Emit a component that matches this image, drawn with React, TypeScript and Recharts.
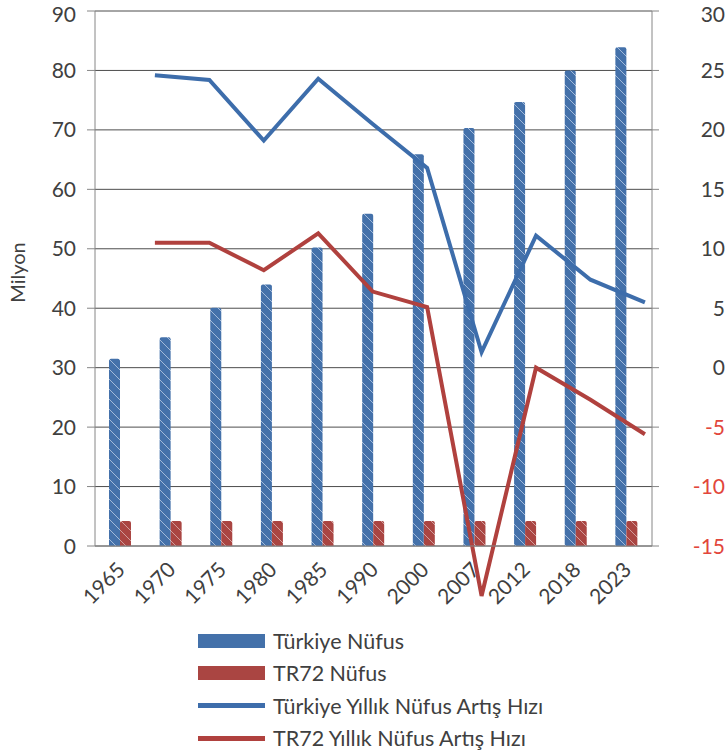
import React from "react"
import { ComposedChart, Bar, Line, XAxis, YAxis, CartesianGrid } from "recharts"

// census years (bars) and the growth-rate intervals between them (lines)
const years = ["1965", "1970", "1975", "1980", "1985", "1990", "2000", "2007", "2012", "2018", "2023"]
const turkiyeNufus = [31.5, 35.1, 40.1, 44.0, 50.2, 55.9, 65.9, 70.3, 74.7, 80.0, 83.9]
const tr72Nufus = [4.2, 4.2, 4.2, 4.2, 4.2, 4.2, 4.2, 4.2, 4.2, 4.2, 4.2]

const rateIndex = [0, 1, 2, 3, 4, 5, 6, 7, 8, 9]
const turkiyeArtis = [24.6, 24.2, 19.1, 24.3, 20.5, 16.8, 1.3, 11.1, 7.4, 5.5]
const tr72Artis = [10.5, 10.5, 8.2, 11.3, 6.4, 5.1, -19.2, 0.0, -2.7, -5.6]

const leftTicks = [0, 10, 20, 30, 40, 50, 60, 70, 80, 90]
const rightTicks = [-15, -10, -5, 0, 5, 10, 15, 20, 25, 30]

const BLUE = "#4471aa"
const RED = "#aa4542"
const BLUE_LINE = "#3d6dab"
const RED_LINE = "#b0413e"
const TEXT = "#404040"
const NEG = "#e2463b"
const FONT = "Lato, 'Open Sans', sans-serif"
const FS = 21

const barData = years.map((year, i) => ({
  year,
  turkiye: turkiyeNufus[i],
  tr72: tr72Nufus[i],
}))

const rateData = rateIndex.map((i, k) => ({
  i,
  turkiye: turkiyeArtis[k],
  tr72: tr72Artis[k],
}))

// the top labels sit against the upper edge, nudge them down a little
const topNudge = (index: number, count: number) => (index === count - 1 ? 3 : 0)

const YearTick = (props: any) => {
  const { x, y, payload } = props
  const ax = x + 6
  const ay = y + 17
  return (
    <text
      x={ax}
      y={ay}
      transform={`rotate(-45, ${ax}, ${ay})`}
      textAnchor="end"
      fill={TEXT}
      fontSize={FS}
      fontFamily={FONT}
    >
      {payload.value}
    </text>
  )
}

const RateTick = (props: any) => {
  const { x, y, payload, index } = props
  return (
    <text
      x={x + 66}
      y={y + topNudge(index, rightTicks.length)}
      dy="0.36em"
      textAnchor="end"
      fill={payload.value < 0 ? NEG : TEXT}
      fontSize={FS}
      fontFamily={FONT}
    >
      {payload.value}
    </text>
  )
}

const LeftTick = (props: any) => {
  const { x, y, payload, index } = props
  return (
    <text
      x={x}
      y={y + topNudge(index, leftTicks.length)}
      dy="0.36em"
      textAnchor="end"
      fill={TEXT}
      fontSize={FS}
      fontFamily={FONT}
    >
      {payload.value}
    </text>
  )
}

const MilyonLabel = (props: any) => {
  const { viewBox } = props
  const cy = viewBox.y + viewBox.height / 2 - 6
  return (
    <text
      x={25}
      y={cy}
      transform={`rotate(-90, 25, ${cy})`}
      textAnchor="middle"
      fill={TEXT}
      fontSize={20}
      fontFamily={FONT}
    >
      Milyon
    </text>
  )
}

const legendItems = [
  { label: "Türkiye Nüfus", color: BLUE, thick: 14 },
  { label: "TR72 Nüfus", color: RED, thick: 14 },
  { label: "Türkiye Yıllık Nüfus Artış Hızı", color: BLUE_LINE, thick: 5 },
  { label: "TR72 Yıllık Nüfus Artış Hızı", color: RED_LINE, thick: 5 },
]

const ChartLegend = () => (
  <div style={{ position: "absolute", left: 198, top: 625, fontFamily: FONT, fontSize: 21.5, color: TEXT }}>
    {legendItems.map((item) => (
      <div key={item.label} style={{ display: "flex", alignItems: "center", height: 32.3 }}>
        <div style={{ width: 67, height: item.thick, background: item.color, marginRight: 8 }} />
        <span>{item.label}</span>
      </div>
    ))}
  </div>
)

export default function App() {
  return (
    <div style={{ position: "absolute", left: 0, top: 0, width: 728, height: 753, background: "#fff" }}>
      <style>{`svg g[clip-path], .recharts-line, .recharts-line g, .recharts-line path { clip-path: none !important; }`}</style>
      <ComposedChart
        width={728}
        height={753}
        data={barData}
        margin={{ top: 11, right: 0, bottom: 147, left: 0 }}
        barGap={0}
      >
        <defs>
          <pattern id="hatchBlue" patternUnits="userSpaceOnUse" width={10} height={10}>
            <rect width={10} height={10} fill={BLUE} />
            <path d="M-1,-1 L11,11 M-1,9 L1,11 M9,-1 L11,1" stroke="#b9cbe4" strokeWidth={0.8} />
          </pattern>
          <pattern id="hatchRed" patternUnits="userSpaceOnUse" width={10} height={10}>
            <rect width={10} height={10} fill={RED} />
            <path d="M-1,-1 L11,11 M-1,9 L1,11 M9,-1 L11,1" stroke="#dcb3b1" strokeWidth={0.8} />
          </pattern>
        </defs>
        <CartesianGrid xAxisId="cat" yAxisId="left" vertical={false} stroke="#4d4d4d" strokeWidth={1} />
        <XAxis
          xAxisId="cat"
          dataKey="year"
          height={60}
          interval={0}
          tickLine={false}
          axisLine={{ stroke: "#868686" }}
          tick={<YearTick />}
        />
        <XAxis xAxisId="rate" type="number" dataKey="i" domain={[-1.1, 9.13]} hide />
        <YAxis
          yAxisId="left"
          width={95}
          domain={[0, 90]}
          ticks={leftTicks}
          interval={0}
          tickSize={8}
          tickMargin={11}
          axisLine={{ stroke: "#868686" }}
          tickLine={{ stroke: "#868686" }}
          tick={<LeftTick />}
          label={<MilyonLabel />}
        />
        <YAxis
          yAxisId="right"
          orientation="right"
          width={76}
          domain={[-15, 30]}
          allowDataOverflow
          ticks={rightTicks}
          interval={0}
          tickSize={7}
          tickMargin={0}
          axisLine={{ stroke: "#868686" }}
          tickLine={{ stroke: "#868686" }}
          tick={<RateTick />}
        />
        <Bar
          xAxisId="cat"
          yAxisId="left"
          dataKey="turkiye"
          name="Türkiye Nüfus"
          barSize={11}
          fill="url(#hatchBlue)"
          radius={[2, 2, 0, 0]}
          isAnimationActive={false}
        />
        <Bar
          xAxisId="cat"
          yAxisId="left"
          dataKey="tr72"
          name="TR72 Nüfus"
          barSize={11}
          fill="url(#hatchRed)"
          radius={[2, 2, 0, 0]}
          isAnimationActive={false}
        />
        <Line
          xAxisId="rate"
          yAxisId="right"
          data={rateData}
          dataKey="turkiye"
          name="Türkiye Yıllık Nüfus Artış Hızı"
          stroke={BLUE_LINE}
          strokeWidth={4}
          dot={false}
          activeDot={false}
          isAnimationActive={false}
        />
        <Line
          xAxisId="rate"
          yAxisId="right"
          data={rateData}
          dataKey="tr72"
          name="TR72 Yıllık Nüfus Artış Hızı"
          stroke={RED_LINE}
          strokeWidth={4}
          dot={false}
          activeDot={false}
          isAnimationActive={false}
        />
      </ComposedChart>
      <ChartLegend />
    </div>
  )
}
